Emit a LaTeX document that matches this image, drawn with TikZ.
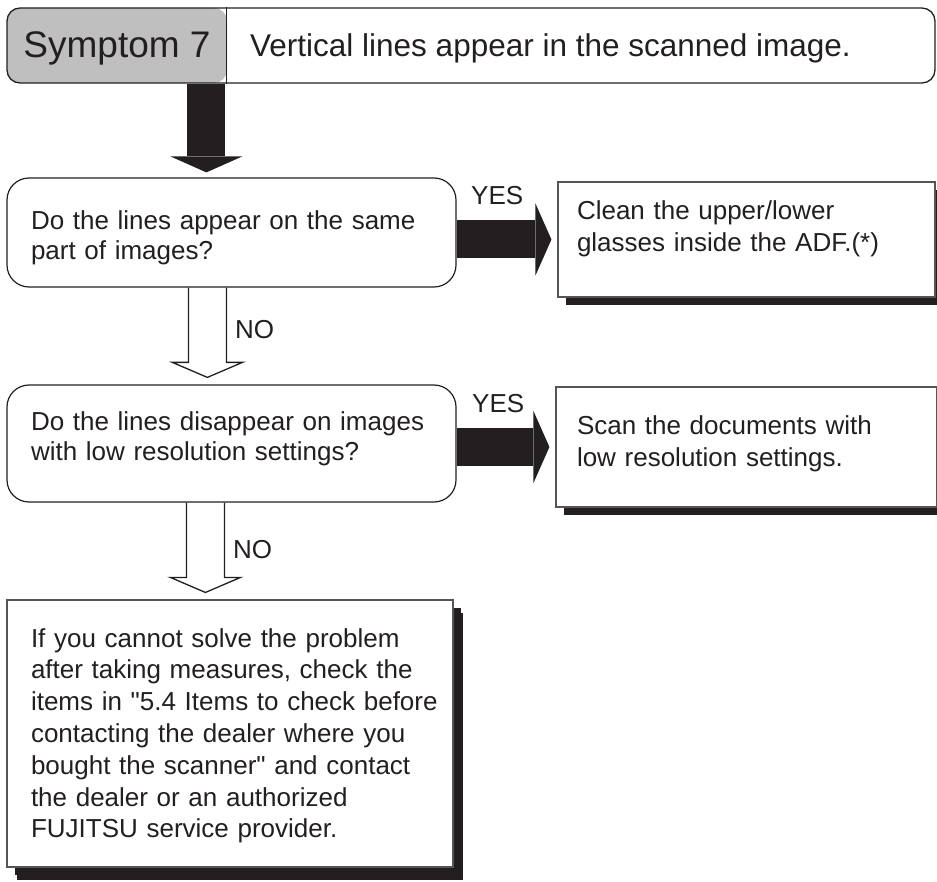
\documentclass[tikz,border=0pt]{standalone}
\usepackage{fontspec}
\setmainfont{Liberation Sans}[Ligatures=TeXOff]
\usetikzlibrary{arrows.meta,calc,shadows}
\definecolor{ink}{HTML}{231F20}
\definecolor{frame}{HTML}{555555}
\definecolor{tab}{HTML}{BFBFBF}

\begin{document}
\begin{tikzpicture}[
    x=1pt,
    y=-1pt,
    text=ink,
    bigarrow/.style={draw=ink, line width=38pt,
        -{Triangle[length=16pt,width=72pt,line width=0pt]}},
    hollow/.style={draw=ink, line width=1.3pt, line join=miter},
    question/.style={
        draw=ink,
        fill=white,
        line width=1.2pt,
        rounded corners=22pt,
        font=\fontsize{26pt}{30pt}\selectfont,
        align=left,
        minimum width=449pt,
        text width=401pt,
        inner xsep=24pt,
        inner ysep=0pt
    },
    answer/.style={
        draw=frame,
        fill=white,
        line width=1.1pt,
        font=\fontsize{26pt}{31.8pt}\selectfont,
        align=left,
        inner ysep=0pt,
        general shadow={fill=ink, shadow xshift=8pt, shadow yshift=-8pt}
    },
    tag/.style={font=\fontsize{26pt}{30pt}\selectfont, anchor=base west, inner sep=0pt}
]
\useasboundingbox (0,0) rectangle (937,882);
\clip (0,0) rectangle (937,882);

% Title bar: grey symptom tab and the description.
\node[draw=ink, line width=1.3pt, rounded corners=13pt, minimum width=928pt,
    minimum height=75pt, inner sep=0pt,
    path picture={\fill[tab] (path picture bounding box.south west)
        rectangle ([xshift=220pt]path picture bounding box.north west);}]
    (header) at (471,45.5) {};
\draw[ink, line width=1.1pt] ([xshift=220pt]header.north west) -- ([xshift=220pt]header.south west);
\node[anchor=base, inner sep=0pt, font=\fontsize{37pt}{40pt}\selectfont]
    (symptom) at (117,58) {Symptom 7};
\node[anchor=base west, inner sep=0pt, font=\fontsize{31.5pt}{36pt}\selectfont]
    (title) at (250,57) {Vertical lines appear in the scanned image.};

% Questions.
\node[question, text height=52pt, text depth=57pt] (ask1) at (231.5,232.5)
    {Do the lines appear on the same\\part of images?};
\node[question, text height=45pt, text depth=72pt] (ask2) at (231.5,443.5)
    {Do the lines disappear on images\\with low resolution settings?};

% Remedies.
\node[answer, minimum width=377pt, text width=339pt, inner xsep=19pt,
    text height=38pt, text depth=77pt] (fix1) at (746.5,239.5)
    {Clean the upper/lower\\glasses inside the ADF.(*)};
\node[answer, minimum width=377pt, text width=339pt, inner xsep=21pt,
    text height=48pt, text depth=72pt] (fix2) at (746.5,447)
    {Scan the documents with\\low resolution settings.};
\node[answer, minimum width=446pt, text width=398pt, inner xsep=24pt,
    text height=47pt, text depth=220pt,
    general shadow={fill=ink, shadow xshift=10pt, shadow yshift=-13pt}] (contact) at (230,733.5)
    {If you cannot solve the problem\\after taking measures, check the\\\mbox{items in "5.4 Items to check before}\\contacting the dealer where you\\bought the scanner" and contact\\the dealer or an authorized\\FUJITSU service provider.};

% Solid arrows.
\coordinate (drop) at ([xshift=200pt]ask1.north west);
\draw[bigarrow, shorten >=5pt] (drop |- header.south) -- (drop);
\draw[bigarrow, shorten >=6pt] (ask1.east |- fix1.west) -- (fix1.west);
\draw[bigarrow, shorten >=6pt] (ask2.east |- fix2.west) -- (fix2.west);
\node[tag] (yes1) at (471,205) {YES};
\node[tag] (yes2) at (472,413) {YES};

% Hollow arrows for the NO branches.
\coordinate (no1) at ([xshift=201pt]ask1.south west);
\coordinate (no1tip) at ([xshift=201pt,yshift=7pt]ask2.north west);
\draw[hollow] let \p1=(no1), \p2=(no1tip) in
    (\x1-19pt,\y1) -- (\x1-19pt,\y2+15pt) -- (\x1-35pt,\y2+15pt) -- (\p2)
    -- (\x1+35pt,\y2+15pt) -- (\x1+19pt,\y2+15pt) -- (\x1+19pt,\y1);
\coordinate (no2) at ([xshift=199pt]ask2.south west);
\coordinate (no2tip) at ([xshift=199pt,yshift=7pt]contact.north west);
\draw[hollow] let \p1=(no2), \p2=(no2tip) in
    (\x1-19pt,\y1) -- (\x1-19pt,\y2+15pt) -- (\x1-35pt,\y2+15pt) -- (\p2)
    -- (\x1+35pt,\y2+15pt) -- (\x1+19pt,\y2+15pt) -- (\x1+19pt,\y1);
\node[tag] (nolabel1) at (235,339) {NO};
\node[tag] (nolabel2) at (233,558) {NO};

\end{tikzpicture}
\end{document}
